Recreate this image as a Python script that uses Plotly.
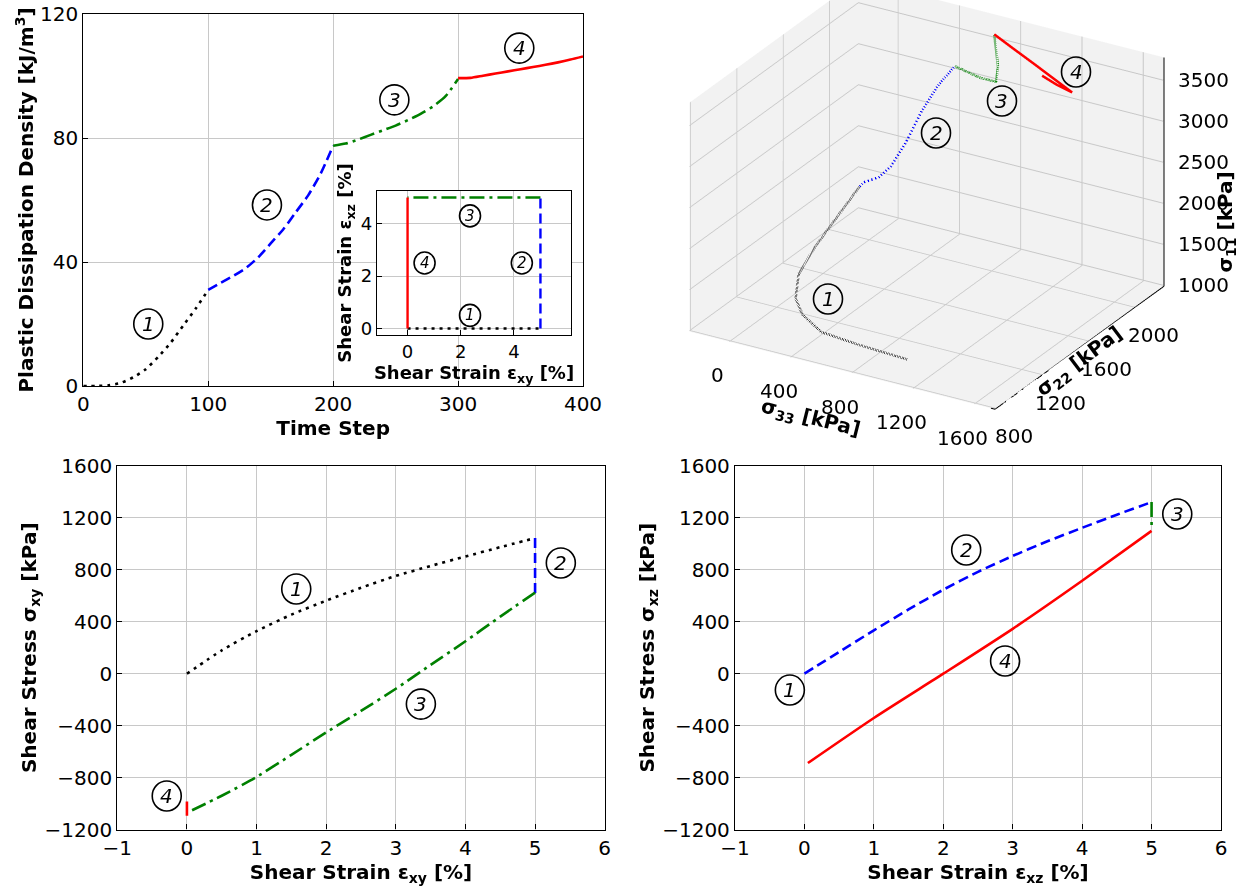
import plotly.graph_objects as go

# ---------------- data ----------------
# Top-left: plastic dissipation density vs time step
t_s1 = [0, 10, 20, 30, 40, 50, 60, 70, 80, 90, 100]
d_s1 = [0, 0, 0.2, 1.0, 2.8, 5.4, 9.4, 14, 19.5, 25, 31]
t_s2 = [100, 110, 120, 130, 140, 150, 160, 170, 180, 190, 200]
d_s2 = [31, 33.3, 35.5, 38, 41.5, 46, 50.5, 56, 61.5, 68.5, 77.5]
t_s3 = [200, 210, 220, 230, 240, 250, 260, 270, 280, 290, 300]
d_s3 = [77.5, 78.2, 79.5, 81, 82.5, 84, 85.8, 87.8, 90.2, 93.5, 99]
t_s4 = [300, 310, 320, 330, 340, 350, 360, 370, 380, 390, 400]
d_s4 = [99.3, 99.4, 100.1, 100.8, 101.5, 102.2, 102.9, 103.6, 104.4, 105.3, 106.3]

# Inset: strain path
in_exy = [[0, 5], [5, 5], [5, 0], [0, 0]]
in_exz = [[0, 0], [0, 5], [5, 5], [5, 0]]

# 3D stress path (sigma33, sigma22, sigma11)
s33_1 = [983, 674, 423, 300, 255, 275, 379, 526, 674]
s22_1 = [1025, 1025, 1025, 1025, 1025, 1025, 1025, 1025, 1025]
s11_1 = [1000, 1027, 1068, 1221, 1398, 1704, 2076, 2520, 2962]
s33_2 = [674, 700, 742, 745, 730, 717, 673, 634]
s22_2 = [1025, 1025, 1100, 1200, 1350, 1500, 1700, 1900]
s11_2 = [2962, 3024, 3029, 3060, 3191, 3403, 3493, 3510]
s33_3 = [634, 722, 752, 727, 665]
s22_3 = [1900, 2000, 2100, 2150, 2200]
s11_3 = [3510, 3309, 3170, 3290, 3604]
s33_4 = [665, 792, 921, 1047, 1173, 1090, 1000]
s22_4 = [2200, 2200, 2200, 2200, 2200, 2180, 2170]
s11_4 = [3604, 3487, 3371, 3254, 3138, 3210, 3290]
s33_range = [-260, 1735]
s22_range = [790, 2250]
s11_range = [990, 3780]
s33_ticks = [0, 400, 800, 1200, 1600]
s22_ticks = [800, 1200, 1600, 2000]
s11_ticks = [1000, 1500, 2000, 2500, 3000, 3500]

# Bottom-left: sigma_xy vs eps_xy
bl_e1 = [0, 0.5, 1, 1.5, 2, 2.5, 3, 3.5, 4, 4.5, 5]
bl_s1 = [0, 180, 328, 455, 563, 662, 753, 830, 903, 975, 1045]
bl_e2 = [5, 5]
bl_s2 = [1045, 620]
bl_e3 = [5, 4.5, 4, 3.5, 3, 2.5, 2, 1.5, 1, 0.5, 0]
bl_s3 = [625, 440, 250, 68, -116, -287, -452, -625, -795, -940, -1071]
bl_e4 = [0, 0, 0, 0]
bl_s4 = [-1071, -1095, -1040, -985]

# Bottom-right: sigma_xz vs eps_xz
br_e1 = [0]
br_s1 = [0]
br_e2 = [0, 0.5, 1, 1.5, 2, 2.5, 3, 3.5, 4, 4.5, 5]
br_s2 = [0, 168, 334, 495, 647, 785, 907, 1020, 1124, 1225, 1322]
br_e3 = [5, 5]
br_s3 = [1322, 1141]
br_e4 = [5, 4, 3, 2, 1, 0.05]
br_s4 = [1100, 716, 346, 0, -341, -688]

# circled stage labels (data coordinates of each panel)
tl_lab = [(52, 20), (147, 58.4), (249, 92.3), (349, 109)]
in_lab = [(2.35, 0.5), (4.3, 2.5), (2.35, 4.3), (0.64, 2.5)]
bl_lab = [(1.57, 652), (5.37, 853), (3.36, -234), (-0.29, -942)]
br_lab = [(-0.21, -126), (2.33, 953), (5.37, 1230), (2.89, 98)]
sc_lab = [(828, 299), (936, 133), (1002, 101), (1076, 72)]  # pixel positions

W, H = 1260, 886
FONT = "DejaVu Sans"
BLACK, BLUE, GREEN, RED = "#000000", "#0000ff", "#008000", "#ff0000"
DOT, DASH, DASHDOT = "3px,5px", "10px,5px", "15px,5px,3px,5px"

fig = go.Figure()


def add2d(x, y, color, dash, xa, ya, width=2.6):
    fig.add_trace(go.Scatter(x=x, y=y, mode="lines", xaxis=xa, yaxis=ya,
                             line=dict(color=color, dash=dash, width=width, shape="spline", smoothing=0.6),
                             showlegend=False, hoverinfo="skip"))


# top-left
add2d(t_s1, d_s1, BLACK, DOT, "x", "y")
add2d(t_s2, d_s2, BLUE, DASH, "x", "y")
add2d(t_s3, d_s3, GREEN, DASHDOT, "x", "y")
add2d(t_s4, d_s4, RED, "solid", "x", "y")

# inset (x3/y3); x2/y2 is the white framed box behind it
styles = [(BLACK, DOT), (BLUE, DASH), (GREEN, DASHDOT), (RED, "solid")]
for i, (c, d) in enumerate(styles):
    add2d(in_exy[i], in_exz[i], c, d, "x3", "y3", width=2.4)

# bottom-left
add2d(bl_e1, bl_s1, BLACK, DOT, "x4", "y4")
add2d(bl_e2, bl_s2, BLUE, DASH, "x4", "y4")
add2d(bl_e3, bl_s3, GREEN, DASHDOT, "x4", "y4")
add2d(bl_e4, bl_s4, RED, "solid", "x4", "y4")

# bottom-right
add2d(br_e1, br_s1, BLACK, DOT, "x5", "y5")
add2d(br_e2, br_s2, BLUE, DASH, "x5", "y5")
add2d(br_e3, br_s3, GREEN, DASHDOT, "x5", "y5")
add2d(br_e4, br_s4, RED, "solid", "x5", "y5")

# 3D
for xs, ys, zs, c, d in [(s33_1, s22_1, s11_1, BLACK, "dot"),
                         (s33_2, s22_2, s11_2, BLUE, "dash"),
                         (s33_3, s22_3, s11_3, GREEN, "dashdot"),
                         (s33_4, s22_4, s11_4, RED, "solid")]:
    fig.add_trace(go.Scatter3d(x=xs, y=ys, z=zs, mode="lines",
                               line=dict(color=c, width=5, dash=d),
                               showlegend=False, hoverinfo="skip", scene="scene"))

# axes lines of the 3D box placed like matplotlib's default view
x0, x1 = s33_range
y0, y1 = s22_range
z0, z1 = s11_range
eps_y = 0.003 * (y1 - y0)
eps_x = 0.003 * (x1 - x0)
eps_z = 0.003 * (z1 - z0)


def add3d_line(xs, ys, zs):
    fig.add_trace(go.Scatter3d(x=xs, y=ys, z=zs, mode="lines", line=dict(color="black", width=2),
                               showlegend=False, hoverinfo="skip", scene="scene"))


add3d_line([x1, x1], [y1, y1], [z0, z1])          # sigma11 axis (right edge)
add3d_line([x0, x1], [y0, y0], [z0, z0])          # sigma33 axis (front-left edge)
add3d_line([x1, x1], [y0, y1], [z0, z0])          # sigma22 axis (front-right edge)

# 3D tick labels as scene annotations anchored just inside the axis edges
scene_ann = []
tfont = dict(family=FONT, size=20, color="black")
for v in s33_ticks:
    scene_ann.append(dict(x=v, y=y0 + eps_y, z=z0 + eps_z, text=str(v), showarrow=False,
                          xshift=-12, yshift=-35, font=tfont))
for v in s22_ticks:
    scene_ann.append(dict(x=x1 - eps_x, y=v, z=z0 + eps_z, text=str(v), showarrow=False,
                          xshift=19, yshift=-29, font=tfont))
for v in s11_ticks:
    scene_ann.append(dict(x=x1 - eps_x, y=y1 - eps_y, z=v, text=str(v), showarrow=False, xanchor="left",
                          xshift=13, font=tfont))


def px_x(p):
    return p / W


def px_y(p):
    return 1 - p / H


def ax_common(size=20):
    return dict(showline=True, linecolor="black", linewidth=1.3, mirror=True,
                ticks="inside", ticklen=5, tickcolor="black", automargin=False,
                showgrid=True, gridcolor="#c8c8c8", gridwidth=1, zeroline=False,
                tickfont=dict(family=FONT, size=size, color="black"))


def title(txt, size=20):
    return dict(text="<b>" + txt + "</b>", font=dict(family=FONT, size=size, color="black"))


layout = dict(
    width=W, height=H, margin=dict(l=0, r=0, t=0, b=0),
    paper_bgcolor="white", plot_bgcolor="white",
    font=dict(family=FONT, color="black"),
    showlegend=False,
    # top-left
    xaxis=dict(domain=[px_x(83.3), px_x(583)], anchor="y", range=[0, 400],
               tickvals=[0, 100, 200, 300, 400], title=dict(title("Time Step"), standoff=1), **ax_common()),
    yaxis=dict(domain=[px_y(386), px_y(14)], anchor="x", range=[0, 120],
               tickvals=[0, 40, 80, 120], title=dict(title("Plastic Dissipation Density [kJ/m<sup>3</sup>]"), standoff=0),
               **ax_common()),
    # inset frame box
    xaxis2=dict(domain=[px_x(341), px_x(577)], anchor="y2", range=[0, 1], showline=True, mirror=True,
                linecolor="black", linewidth=1.5, showgrid=False, zeroline=False, showticklabels=False, ticks="",
                automargin=False),
    yaxis2=dict(domain=[px_y(380), px_y(162.5)], anchor="x2", range=[0, 1], showline=True, mirror=True,
                linecolor="black", linewidth=1.5, showgrid=False, zeroline=False, showticklabels=False, ticks="",
                automargin=False),
    # inset axes
    xaxis3=dict(domain=[px_x(377), px_x(571)], anchor="y3", range=[-1.15, 6.15], tickvals=[0, 2, 4],
                title=dict(title("Shear Strain ε<sub>xy</sub> [%]", 18), standoff=2), **ax_common(18)),
    yaxis3=dict(domain=[px_y(335), px_y(191)], anchor="x3", range=[-0.25, 5.25], tickvals=[0, 2, 4],
                title=dict(title("Shear Strain ε<sub>xz</sub> [%]", 18), standoff=4), **ax_common(18)),
    # bottom-left
    xaxis4=dict(domain=[px_x(117.3), px_x(604.7)], anchor="y4", range=[-1, 6], dtick=1,
                title=dict(title("Shear Strain ε<sub>xy</sub> [%]"), standoff=1), **ax_common()),
    yaxis4=dict(domain=[px_y(829.5), px_y(466)], anchor="x4", range=[-1200, 1600], dtick=400,
                title=dict(title("Shear Stress σ<sub>xy</sub> [kPa]"), standoff=2), **ax_common()),
    # bottom-right
    xaxis5=dict(domain=[px_x(735), px_x(1221)], anchor="y5", range=[-1, 6], dtick=1,
                title=dict(title("Shear Strain ε<sub>xz</sub> [%]"), standoff=1), **ax_common()),
    yaxis5=dict(domain=[px_y(829.5), px_y(466)], anchor="x5", range=[-1200, 1600], dtick=400,
                title=dict(title("Shear Stress σ<sub>xz</sub> [kPa]"), standoff=2), **ax_common()),
)

ax3d = dict(showbackground=True, backgroundcolor="rgb(242,242,242)", gridcolor="rgb(200,200,200)",
            showspikes=False, zeroline=False, showline=False, showticklabels=False, ticks="",
            title=dict(text=""))
layout["scene"] = dict(
    domain=dict(x=[0.5, 1.0], y=[0.48, 1.0]),
    xaxis=dict(range=s33_range, tickvals=s33_ticks, **ax3d),
    yaxis=dict(range=s22_range, tickvals=s22_ticks, **ax3d),
    zaxis=dict(range=s11_range, tickvals=s11_ticks, **ax3d),
    aspectmode="manual", aspectratio=dict(x=1.54, y=1.44, z=1.1),
    camera=dict(eye=dict(x=1.018, y=-1.567, z=0.717), center=dict(x=0.095, y=-0.005, z=-0.148),
                up=dict(x=0, y=0, z=1), projection=dict(type="orthographic")),
    annotations=scene_ann,
)
fig.update_layout(**layout)

# circled labels
shapes, annots = [], []


def circ(x, y, xr, yr, num, r=14.5, fs=20):
    shapes.append(dict(type="circle", xref=xr, yref=yr, xsizemode="pixel", ysizemode="pixel",
                       xanchor=x, yanchor=y, x0=-r, x1=r, y0=-r - 0.5, y1=r + 0.5,
                       line=dict(color="black", width=1.6), fillcolor="rgba(0,0,0,0)", layer="above"))
    annots.append(dict(x=x, y=y, xref=xr, yref=yr, text="<i>%d</i>" % num, showarrow=False,
                       font=dict(family=FONT, size=fs, color="black"), xanchor="center", yanchor="middle"))


for i, (x, y) in enumerate(tl_lab):
    circ(x, y, "x", "y", i + 1)
for i, (x, y) in enumerate(in_lab):
    circ(x, y, "x3", "y3", i + 1, r=10.5, fs=15)
for i, (x, y) in enumerate(bl_lab):
    circ(x, y, "x4", "y4", i + 1)
for i, (x, y) in enumerate(br_lab):
    circ(x, y, "x5", "y5", i + 1)
for i, (x, y) in enumerate(sc_lab):
    circ(px_x(x), px_y(y), "paper", "paper", i + 1)

# 3D axis titles
for txt, xp, yp, ang in [("σ<sub>11</sub> [kPa]", 1240, 170, -90),
                         ("σ<sub>33</sub> [kPa]", 810, 418, 14),
                         ("σ<sub>22</sub> [kPa]", 1130, 362, -37)]:
    annots.append(dict(x=px_x(xp), y=px_y(yp), xref="paper", yref="paper", showarrow=False, textangle=ang,
                       text="<b>" + txt + "</b>", font=dict(family=FONT, size=20, color="black")))

fig.update_layout(shapes=shapes, annotations=annots)
fig.write_html("out.html", config={"displayModeBar": False})
